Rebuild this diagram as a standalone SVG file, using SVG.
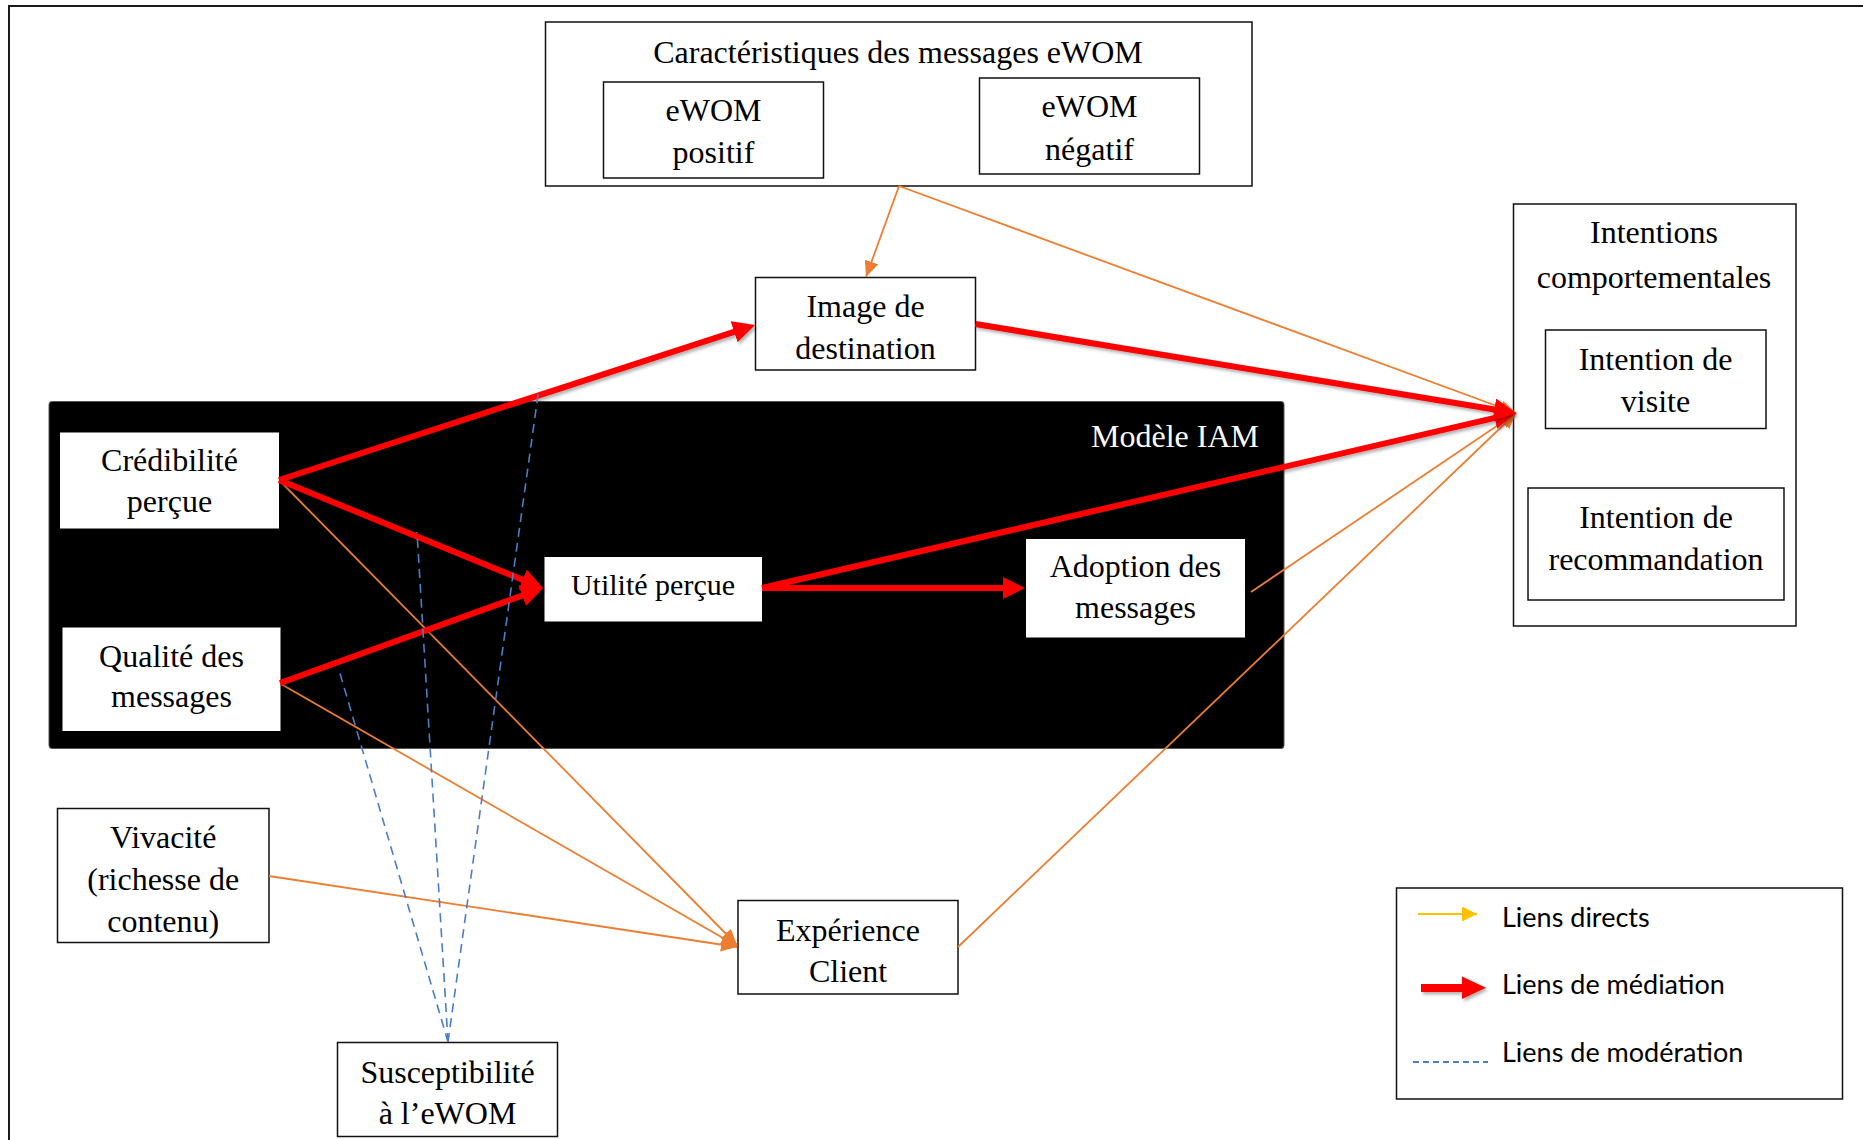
<svg xmlns="http://www.w3.org/2000/svg" width="1863" height="1140" viewBox="0 0 1863 1140">
<style>
.t{font-family:"Liberation Serif","Times New Roman",serif;font-size:32px;fill:#000;text-anchor:middle}
.box{fill:#fff;stroke:#111;stroke-width:1.5}
.wbox{fill:#fff;stroke:none}
.or{stroke:#ED7D31;stroke-width:1.8;fill:none;marker-end:url(#arrO)}
.rd{stroke:#FF0000;stroke-width:6;fill:none;marker-end:url(#arrR);filter:url(#sh)}
.bl{stroke:#4A7EC7;stroke-width:1.6;fill:none;stroke-dasharray:9 6}
.lg{font-family:Lato,"Open Sans",sans-serif;font-size:27px;fill:#000}
</style>
<defs>
<marker id="arrO" markerUnits="userSpaceOnUse" markerWidth="16" markerHeight="14" refX="16" refY="7" orient="auto"><path d="M0,0 L16,7 L0,14 z" fill="#ED7D31"/></marker>
<marker id="arrR" markerUnits="userSpaceOnUse" markerWidth="22" markerHeight="22" refX="8" refY="11" orient="auto"><path d="M0,0 L22,11 L0,22 z" fill="#FF0000"/></marker>
<marker id="arrY" markerUnits="userSpaceOnUse" markerWidth="15" markerHeight="15" refX="15" refY="7.5" orient="auto"><path d="M0,0 L15,7.5 L0,15 z" fill="#FFC000"/></marker>
<filter id="sh" filterUnits="userSpaceOnUse" x="0" y="0" width="1863" height="1140"><feDropShadow dx="2" dy="2.5" stdDeviation="1.5" flood-color="#000" flood-opacity="0.3"/></filter>
</defs>
<rect x="0" y="0" width="1863" height="1140" fill="#fff"/>
<rect x="9" y="6" width="1900" height="1200" fill="none" stroke="#1a1a1a" stroke-width="2"/>

<g id="modele-iam">
<rect x="49" y="401.5" width="1235" height="347" rx="3" fill="#000" stroke="#555" stroke-width="1"/>
<text x="1259" y="446.5" class="t" style="fill:#fff;text-anchor:end">Modèle IAM</text>
</g>

<g id="caracteristiques">
<rect x="545.5" y="22" width="706.5" height="164" class="box"/>
<text x="898" y="62.5" class="t">Caractéristiques des messages eWOM</text>
</g>
<g id="ewom-positif">
<rect x="603.5" y="82" width="220" height="96" class="box"/>
<text x="713.5" y="121" class="t">eWOM</text>
<text x="713.5" y="162.5" class="t">positif</text>
</g>
<g id="ewom-negatif">
<rect x="979.5" y="78" width="220" height="96" class="box"/>
<text x="1089.5" y="117" class="t">eWOM</text>
<text x="1089.5" y="160" class="t">négatif</text>
</g>
<g id="image-destination">
<rect x="755.5" y="277.5" width="220" height="92.5" class="box"/>
<text x="865.5" y="317" class="t">Image de</text>
<text x="865.5" y="359" class="t">destination</text>
</g>
<g id="intentions">
<rect x="1513.5" y="204" width="282.5" height="422" class="box"/>
<text x="1654" y="243" class="t">Intentions</text>
<text x="1654" y="288" class="t">comportementales</text>
</g>
<g id="intention-visite">
<rect x="1545.5" y="330" width="220.5" height="98.5" class="box"/>
<text x="1655.5" y="370" class="t">Intention de</text>
<text x="1655.5" y="411.5" class="t">visite</text>
</g>
<g id="intention-recommandation">
<rect x="1528" y="488" width="256" height="112" class="box"/>
<text x="1656" y="528" class="t">Intention de</text>
<text x="1656" y="570" class="t">recommandation</text>
</g>
<g id="credibilite">
<rect x="60" y="432.5" width="219" height="96" class="wbox"/>
<text x="169.5" y="470.5" class="t">Crédibilité</text>
<text x="169.5" y="512" class="t">perçue</text>
</g>
<g id="qualite">
<rect x="62.5" y="627.5" width="218" height="103.5" class="wbox"/>
<text x="171.5" y="666.5" class="t">Qualité des</text>
<text x="171.5" y="707" class="t">messages</text>
</g>
<g id="utilite">
<rect x="544.5" y="557" width="217.5" height="64.5" class="wbox"/>
<text x="653" y="595" class="t" style="font-size:30px">Utilité perçue</text>
</g>
<g id="adoption">
<rect x="1026" y="539" width="219" height="98.5" class="wbox"/>
<text x="1135.5" y="576.5" class="t">Adoption des</text>
<text x="1135.5" y="618" class="t">messages</text>
</g>
<g id="vivacite">
<rect x="57.5" y="808.5" width="211.5" height="134" class="box"/>
<text x="163.2" y="847.5" class="t">Vivacité</text>
<text x="163.2" y="890" class="t">(richesse de</text>
<text x="163.2" y="932" class="t">contenu)</text>
</g>
<g id="experience">
<rect x="738" y="900.5" width="220" height="93.5" class="box"/>
<text x="848" y="940.5" class="t">Expérience</text>
<text x="848" y="982" class="t">Client</text>
</g>
<g id="susceptibilite">
<rect x="337.5" y="1042.5" width="220" height="94" class="box"/>
<text x="447.5" y="1083" class="t">Susceptibilité</text>
<text x="447.5" y="1123.5" class="t">à l’eWOM</text>
</g>

<g id="connectors">
<line x1="899" y1="186" x2="866" y2="277" class="or"/>
<line x1="899" y1="186" x2="1516" y2="413" class="or"/>
<line x1="281" y1="482" x2="737" y2="945" class="or"/>
<line x1="281" y1="684" x2="737" y2="946" class="or"/>
<line x1="269" y1="876" x2="737" y2="947" class="or"/>
<line x1="1251" y1="592" x2="1516" y2="413" class="or"/>
<line x1="958" y1="947" x2="1516" y2="413" class="or"/>

<line x1="279" y1="480" x2="741.7" y2="329.3" class="rd"/>
<line x1="279" y1="480" x2="530" y2="582.7" class="rd"/>
<line x1="280" y1="683" x2="529.8" y2="592.8" class="rd"/>
<line x1="762" y1="588" x2="1502.4" y2="416.2" class="rd"/>
<line x1="762" y1="588" x2="1011" y2="588" class="rd"/>
<line x1="975.5" y1="324" x2="1502.2" y2="410.7" class="rd"/>

<line x1="448" y1="1042" x2="539" y2="388" class="bl"/>
<line x1="448" y1="1042" x2="417" y2="532" class="bl"/>
<line x1="448" y1="1042" x2="339" y2="670" class="bl"/>
</g>

<g id="legend">
<rect x="1396.5" y="888" width="446" height="211" fill="#fff" stroke="#111" stroke-width="1.5"/>
<line x1="1418" y1="914" x2="1477" y2="914" stroke="#FFC000" stroke-width="2" marker-end="url(#arrY)"/>
<polygon points="1421,984 1462,984 1462,976.5 1486,987.7 1462,999 1462,992 1421,992" fill="#FF0000" filter="url(#sh)"/>
<line x1="1413" y1="1062" x2="1488" y2="1062" stroke="#4A7EC7" stroke-width="2" stroke-dasharray="6 4"/>
<text x="1502" y="927" class="lg">Liens directs</text>
<text x="1502" y="994" class="lg">Liens de médiation</text>
<text x="1502" y="1062" class="lg">Liens de modération</text>
</g>
</svg>
